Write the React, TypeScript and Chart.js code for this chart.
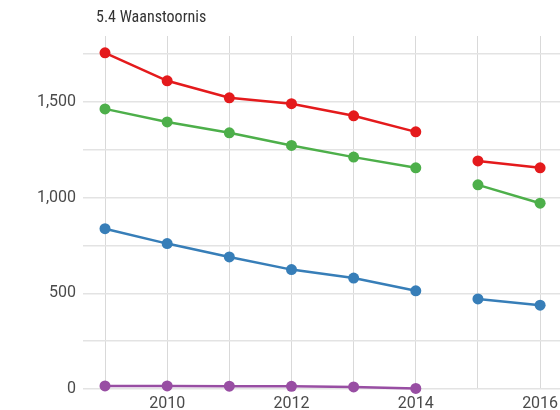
import React, { useEffect, useRef } from "react";
import { Chart, registerables } from "chart.js";

Chart.register(...registerables);

const years = [2009, 2010, 2011, 2012, 2013, 2014, 2015, 2016];
const labeledYears = [2010, 2012, 2014, 2016];
const breakAfter = 2014;
const redValues = [1757, 1611, 1522, 1491, 1428, 1344, 1192, 1156];
const greenValues = [1464, 1396, 1339, 1273, 1212, 1156, 1067, 971];
const blueValues = [838, 760, 690, 624, 580, 513, 471, 438];
const purpleValues = [16, 16, 15, 14, 11, 3, null, null];
const yTicks = [0, 250, 500, 750, 1000, 1250, 1500, 1750];
const title = "5.4 Waanstoornis";

const series = [
  { name: "red", values: redValues, color: "#E41A1C" },
  { name: "green", values: greenValues, color: "#4DAF4A" },
  { name: "blue", values: blueValues, color: "#377EB8" },
  { name: "purple", values: purpleValues, color: "#984EA3" },
];

const tickFont = { family: "Roboto", size: 16, style: "condensed" as any };

export default function App() {
  const ref = useRef<HTMLCanvasElement>(null);
  useEffect(() => {
    if (!ref.current) return;
    const chart = new Chart(ref.current, {
      type: "line",
      data: {
        datasets: series.map((s) => ({
          label: s.name,
          data: years.map((y, i) => ({ x: y, y: s.values[i] })),
          borderColor: s.color,
          backgroundColor: s.color,
          pointBackgroundColor: s.color,
          pointBorderColor: s.color,
          pointRadius: 5.5,
          pointBorderWidth: 0,
          borderWidth: 2.5,
          tension: 0,
          spanGaps: false,
          clip: false as any,
          segment: {
            borderColor: (ctx: any) =>
              ctx.p0.parsed.x === breakAfter ? "rgba(0,0,0,0)" : s.color,
          },
        })),
      },
      options: {
        animation: false,
        responsive: false,
        maintainAspectRatio: false,
        layout: { autoPadding: false, padding: { top: 36, left: 0, right: 0, bottom: 0 } },
        plugins: {
          legend: { display: false },
          tooltip: { enabled: false },
          title: { display: false },
        },
        scales: {
          x: {
            type: "linear",
            min: 2008.646,
            max: 2016.32,
            afterBuildTicks: (scale: any) => {
              scale.ticks = years.map((v) => ({ value: v }));
            },
            afterFit: (scale: any) => {
              scale.height = 21;
              scale.paddingLeft = 0;
              scale.paddingRight = 0;
            },
            grid: { color: "#d9d9d9", lineWidth: 1, drawTicks: false },
            border: { display: false },
            ticks: {
              autoSkip: false,
              maxRotation: 0,
              padding: 5,
              color: "#4a4a4a",
              font: tickFont,
              callback: (v: any) =>
                labeledYears.includes(Number(v)) ? String(v) : "",
            },
          },
          y: {
            min: 0,
            max: 1845,
            afterBuildTicks: (scale: any) => {
              scale.ticks = yTicks.map((v) => ({ value: v }));
            },
            afterFit: (scale: any) => {
              scale.width = 83;
              scale.paddingTop = 0;
              scale.paddingBottom = 0;
            },
            grid: { color: "#e3e3e3", lineWidth: 1.5, drawTicks: false },
            border: { display: false },
            ticks: {
              padding: 7,
              color: "#4a4a4a",
              font: tickFont,
              callback: (v: any) =>
                Number(v) % 500 === 0 ? Number(v).toLocaleString("en-US") : "",
            },
          },
        },
      },
    });
    return () => chart.destroy();
  }, []);
  return (
    <div style={{ position: "absolute", left: 0, top: 0, width: 560, height: 410, background: "#fff" }}>
      <canvas ref={ref} width={560} height={410} style={{ display: "block" }} />
      <div
        style={{
          position: "absolute",
          left: 96,
          top: 7,
          fontFamily: "Roboto",
          fontSize: 16,
          fontStretch: "condensed",
          color: "#333",
          lineHeight: "20px",
          whiteSpace: "nowrap",
        }}
      >
        {title}
      </div>
    </div>
  );
}
